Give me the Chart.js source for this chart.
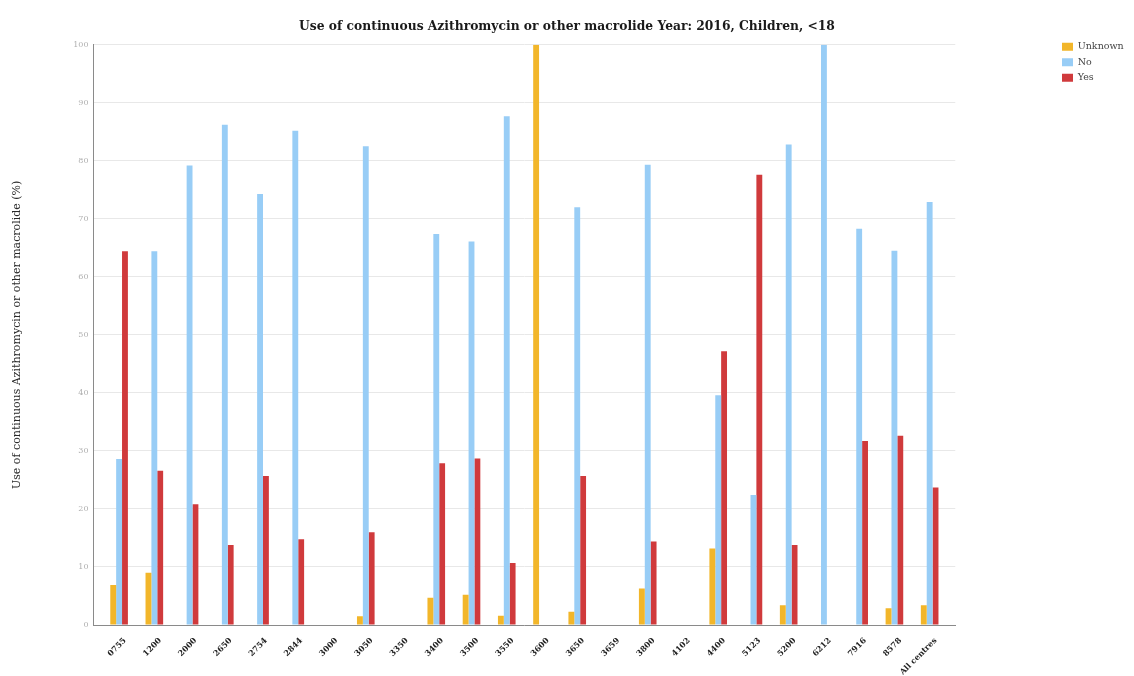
<!DOCTYPE html>
<html>
<head>
<meta charset="utf-8">
<script src="https://cdn.jsdelivr.net/npm/chart.js@4"></script>
<style>
  html, body { margin: 0; padding: 0; background: #ffffff; }
  #wrap { width: 1134px; height: 676px; position: relative; }
</style>
</head>
<body>
<div id="wrap"><canvas id="c" width="1134" height="676"></canvas></div>
<script>
const categories = ["0755","1200","2000","2650","2754","2844","3000","3050","3350","3400","3500","3550","3600","3650","3659","3800","4102","4400","5123","5200","6212","7916","8578","All centres"];
const unknownValues = [6.9, 9, 0, 0, 0, 0, 0, 1.5, 0, 4.7, 5.2, 1.6, 100, 2.3, 0, 6.3, 0, 13.2, 0, 3.4, 0, 0, 2.9, 3.4];
const noValues      = [28.6, 64.4, 79.2, 86.2, 74.3, 85.2, 0, 82.5, 0, 67.4, 66.1, 87.7, 0, 72, 0, 79.3, 0, 39.6, 22.4, 82.8, 100, 68.3, 64.5, 72.9];
const yesValues     = [64.4, 26.6, 20.8, 13.8, 25.7, 14.8, 0, 16, 0, 27.9, 28.7, 10.7, 0, 25.7, 0, 14.4, 0, 47.2, 77.6, 13.8, 0, 31.7, 32.6, 23.7];
const seriesNames = ["Unknown", "No", "Yes"];
const yTicks = [0, 10, 20, 30, 40, 50, 60, 70, 80, 90, 100];

const SERIF = "'DejaVu Serif', 'Liberation Serif', serif";

const adjustPlugin = {
  id: 'adjust',
  afterLayout(chart) {
    const x = chart.scales.x;
    const inset = 8;
    x._startPixel += inset;
    x._endPixel -= inset;
    x._length = x._endPixel - x._startPixel;
    const lg = chart.legend;
    if (lg) {
      const w = lg.width, h = lg.height;
      lg.left = 1056; lg.right = 1056 + w;
      lg.top = 36; lg.bottom = 36 + h;
    }
    const t = chart.titleBlock;
    if (t) {
      t.left = 0; t.right = chart.width; t.width = chart.width;
    }
  }
};

new Chart(document.getElementById('c'), {
  type: 'bar',
  data: {
    labels: categories,
    datasets: [
      { label: seriesNames[0], data: unknownValues, backgroundColor: '#F2B62A' },
      { label: seriesNames[1], data: noValues, backgroundColor: '#98CDF6' },
      { label: seriesNames[2], data: yesValues, backgroundColor: '#D03A3C' }
    ]
  },
  options: {
    responsive: false,
    animation: false,
    devicePixelRatio: 1,
    layout: { padding: { left: 7, right: 101, top: 0, bottom: -12 } },
    datasets: { bar: { categoryPercentage: 0.5, barPercentage: 1.0 } },
    plugins: {
      title: {
        display: true,
        text: 'Use of continuous Azithromycin or other macrolide Year: 2016, Children, <18',
        color: '#1a1a1a',
        font: { family: SERIF, size: 12.3, weight: 'bold' },
        padding: { top: 19, bottom: 11 }
      },
      legend: {
        display: true,
        position: 'right',
        align: 'start',
        labels: {
          boxWidth: 11,
          boxHeight: 8,
          padding: 6,
          color: '#444',
          font: { family: SERIF, size: 9.5 }
        }
      },
      tooltip: { enabled: false }
    },
    scales: {
      x: {
        grid: { display: false, drawTicks: false },
        border: { display: true, color: '#8a8a8a', width: 1 },
        ticks: {
          autoSkip: false,
          minRotation: 45,
          maxRotation: 45,
          padding: 11,
          labelOffset: 6,
          color: '#222',
          font: { family: SERIF, size: 8, weight: 'bold' }
        }
      },
      y: {
        min: 0,
        max: 100,
        afterBuildTicks(scale) { scale.ticks = yTicks.map(v => ({ value: v })); },
        grid: { color: '#e8e8e8', drawTicks: false },
        border: { display: true, color: '#8a8a8a', width: 1 },
        ticks: {
          padding: 5,
          color: '#b0b0b0',
          font: { family: SERIF, size: 8 }
        },
        title: {
          display: true,
          text: 'Use of continuous Azithromycin or other macrolide (%)',
          color: '#2a2a2a',
          font: { family: SERIF, size: 11 },
          padding: { top: 4, bottom: 44 }
        }
      }
    }
  },
  plugins: [adjustPlugin]
});
</script>
</body>
</html>
